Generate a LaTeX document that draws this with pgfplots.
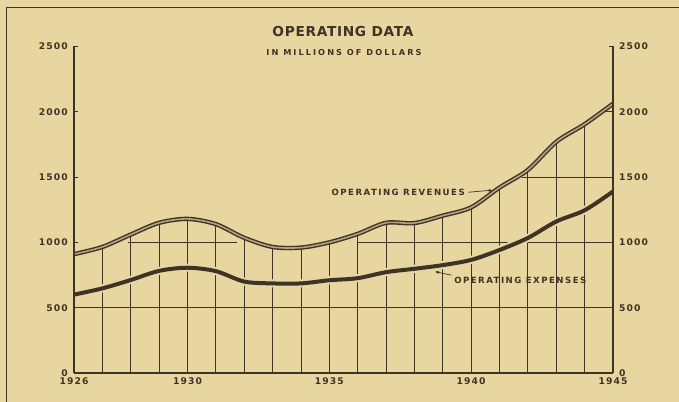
\documentclass[border=0pt]{standalone}
\usepackage{fontspec}
\usepackage{pgfplots}
\usepackage{pgfplotstable}
\pgfplotsset{compat=1.18}
\usetikzlibrary{arrows.meta}
\newfontfamily\lsT{DejaVu Sans}[LetterSpace=5]
\newfontfamily\lsA{DejaVu Sans}[LetterSpace=17]
\newfontfamily\lsS{DejaVu Sans}[LetterSpace=25]
\newfontfamily\lsN{DejaVu Sans}[LetterSpace=12]
\definecolor{bg}{RGB}{232,214,160}
\definecolor{ink}{RGB}{62,52,38}
\definecolor{revin}{RGB}{178,162,128}
\newcommand{\tickfont}{\lsN\bfseries\fontsize{9.2}{10}\selectfont}
\newcommand{\annfont}{\lsA\bfseries\fontsize{8.6}{9}\selectfont}
\pgfplotstableread{
year rev exp
1926 910 600
1927 965 648
1928 1060 712
1929 1150 782
1930 1180 806
1931 1140 780
1932 1035 700
1933 965 686
1934 960 686
1935 1000 710
1936 1065 726
1937 1150 772
1938 1148 798
1939 1205 826
1940 1268 866
1941 1420 942
1942 1555 1034
1943 1770 1160
1944 1905 1246
1945 2062 1390
}\data
\begin{document}
\begin{tikzpicture}[x=1pt,y=1pt]
\useasboundingbox (0,0) rectangle (679,401);
\fill[bg] (-5,-5) rectangle (690,410);
\draw[ink,line width=1pt] (6.7,-5) -- (6.7,393.5) -- (690,393.5);
\begin{axis}[
  at={(74pt,28pt)}, anchor=south west, scale only axis,
  width=539pt, height=326.5pt,
  xmin=1926, xmax=1945, ymin=0, ymax=2500,
  axis on top, clip=false,
  axis x line=bottom, axis y line=left,
  axis line style={-, line width=1.1pt, draw=ink},
  xtick={1926,1930,1935,1940,1945},
  xticklabels={1926,1930,1935,1940,1945},
  x tick style={draw=none},
  ytick={0,500,1000,1500,2000,2500},
  yticklabels={0,500,1000,1500,2000,2500},
  tick align=inside, major tick length=4pt,
  y tick style={line width=1pt, draw=ink},
  ticklabel style={font=\tickfont, text=ink},
  xticklabel style={inner sep=0pt, yshift=-4.5pt},
  yticklabel style={inner sep=0pt, xshift=-6pt},
  /pgf/number format/assume math mode=true,
]
% horizontal grid segments
\addplot[ink, line width=0.9pt] coordinates {(1926,500) (1945,500)};
\addplot[ink, line width=0.9pt] coordinates {(1927.9,1000) (1931.75,1000)};
\addplot[ink, line width=0.9pt] coordinates {(1936,1000) (1945,1000)};
\addplot[ink, line width=0.9pt] coordinates {(1941.8,1500) (1945,1500)};
\addplot[ink, line width=0.9pt] coordinates {(1944.7,2000) (1945,2000)};
% vertical grid lines up to the revenue curve
\addplot[ycomb, ink, line width=0.9pt, mark=none] table[x=year, y=rev] {\data};
% expenses with halo
\addplot[bg, line width=8pt, smooth, line cap=butt] table[x=year, y=exp] {\data};
\addplot[ink, line width=4pt, smooth, line join=round] table[x=year, y=exp] {\data};
% revenues double line
\addplot[ink, line width=1.4pt, double=revin, double distance=1.6pt, smooth, line join=round] table[x=year, y=rev] {\data};
% annotations
\node[anchor=east, inner sep=0pt, text=ink, font=\annfont] at (axis cs:1939.78,1384) {OPERATING REVENUES};
\draw[ink, line width=0.7pt, -{Stealth[length=4pt,width=3pt]}] (axis cs:1939.9,1384) -- (axis cs:1940.75,1400);
\node[anchor=west, inner sep=0pt, text=ink, font=\annfont] at (axis cs:1939.4,711) {OPERATING EXPENSES};
\draw[ink, line width=0.7pt, -{Stealth[length=4pt,width=3pt]}] (axis cs:1939.3,749) -- (axis cs:1938.73,776);
\end{axis}
\begin{axis}[
  at={(74pt,28pt)}, anchor=south west, scale only axis,
  width=539pt, height=326.5pt,
  xmin=1926, xmax=1945, ymin=0, ymax=2500,
  axis on top, clip=false,
  axis x line=none, axis y line=right,
  axis line style={-, line width=1.1pt, draw=ink},
  xtick=\empty,
  ytick={0,500,1000,1500,2000,2500},
  yticklabels={0,500,1000,1500,2000,2500},
  tick align=inside, major tick length=4pt,
  y tick style={line width=1pt, draw=ink},
  ticklabel style={font=\tickfont, text=ink},
  yticklabel style={inner sep=0pt, xshift=6pt},
]
\addplot[draw=none] coordinates {(1926,0)};
\end{axis}
\node[text=ink, font={\lsT\bfseries\fontsize{13.7}{15}\selectfont}] at (343,369) {OPERATING\ DATA};
\node[text=ink, font={\lsS\bfseries\fontsize{8.2}{9}\selectfont}] at (344,348) {IN MILLIONS OF DOLLARS};
\end{tikzpicture}
\end{document}
